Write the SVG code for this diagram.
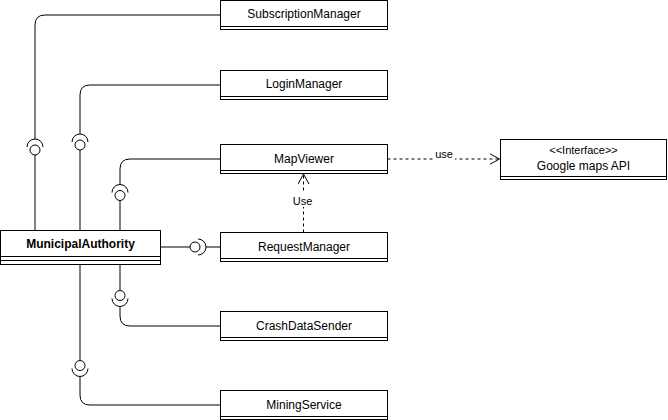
<svg xmlns="http://www.w3.org/2000/svg" width="668" height="420" viewBox="0 0 668 420">
<style>
.box{fill:#fff;stroke:#000;stroke-width:1}
.sep{stroke:#000;stroke-width:1;fill:none}
.t{font-family:"Liberation Sans",Arial,sans-serif;font-size:12px;fill:#000;text-anchor:middle}
.b{font-weight:bold}
.s{font-size:11px}
.ln{fill:none;stroke:#000;stroke-width:1}
.dash{fill:none;stroke:#000;stroke-width:1;stroke-dasharray:3 3}
.lp circle,.lp path{fill:none;stroke:#000;stroke-width:1}
</style>
<defs>
<marker id="open" viewBox="0 0 11 12" refX="10" refY="6" markerWidth="11" markerHeight="12" markerUnits="userSpaceOnUse" orient="auto">
<path d="M0,0.5 L10,6 L0,11.5" fill="none" stroke="#000" stroke-width="1"/>
</marker>
<g id="lolli" class="lp">
<circle cx="0" cy="0" r="5"/>
<path d="M-8,-3 A8,8 0 0 1 8,-3"/>
</g>
</defs>

<g id="connectors">
<path class="ln" d="M35,230 V155"/>
<path class="ln" d="M35,139 V25 Q35,15 45,15 H220"/>
<use href="#lolli" transform="translate(35,150)"/>

<path class="ln" d="M80,230 V150"/>
<path class="ln" d="M80,134 V95 Q80,85 90,85 H220"/>
<use href="#lolli" transform="translate(80,145)"/>

<path class="ln" d="M120,230 V200.5"/>
<path class="ln" d="M120,184.5 V169 Q120,159 130,159 H220"/>
<use href="#lolli" transform="translate(120,195.5)"/>

<path class="ln" d="M160,247 H190"/>
<path class="ln" d="M206,247 H220"/>
<use href="#lolli" transform="translate(195,247) rotate(90)"/>

<path class="ln" d="M120,264 V290.5"/>
<path class="ln" d="M120,306.5 V316 Q120,326 130,326 H220"/>
<use href="#lolli" transform="translate(120,295.5) rotate(180)"/>

<path class="ln" d="M80,264 V360.5"/>
<path class="ln" d="M80,376.5 V395 Q80,405 90,405 H220"/>
<use href="#lolli" transform="translate(80,365.5) rotate(180)"/>

<path class="dash" d="M387.5,159 H499.5" marker-end="url(#open)"/>
<rect x="433" y="149" width="22" height="11" fill="#fff"/>
<text class="t s" x="444" y="158">use</text>

<path class="dash" d="M303.5,232.5 V174" marker-end="url(#open)"/>
<rect x="292" y="193" width="22" height="14" fill="#fff"/>
<text class="t s" x="302.5" y="204.5">Use</text>
</g>

<g id="SubscriptionManager">
<rect class="box" x="220.5" y="0.5" width="167" height="29"/>
<line class="sep" x1="220.5" y1="26.5" x2="387.5" y2="26.5"/>
<text class="t" x="304" y="17.5">SubscriptionManager</text>
</g>
<g id="LoginManager">
<rect class="box" x="220.5" y="70.5" width="167" height="29"/>
<line class="sep" x1="220.5" y1="96.5" x2="387.5" y2="96.5"/>
<text class="t" x="304" y="88">LoginManager</text>
</g>
<g id="MapViewer">
<rect class="box" x="220.5" y="144.5" width="167" height="29"/>
<line class="sep" x1="220.5" y1="170.5" x2="387.5" y2="170.5"/>
<text class="t" x="304" y="162.5">MapViewer</text>
</g>
<g id="RequestManager">
<rect class="box" x="220.5" y="232.5" width="167" height="29"/>
<line class="sep" x1="220.5" y1="258.5" x2="387.5" y2="258.5"/>
<text class="t" x="304" y="250.5">RequestManager</text>
</g>
<g id="CrashDataSender">
<rect class="box" x="220.5" y="311.5" width="167" height="29"/>
<line class="sep" x1="220.5" y1="337.5" x2="387.5" y2="337.5"/>
<text class="t" x="304" y="329.5">CrashDataSender</text>
</g>
<g id="MiningService">
<rect class="box" x="220.5" y="390.5" width="167" height="29"/>
<line class="sep" x1="220.5" y1="416.5" x2="387.5" y2="416.5"/>
<text class="t" x="304" y="408.5">MiningService</text>
</g>
<g id="GoogleMapsAPI">
<rect class="box" x="500.5" y="139.5" width="166" height="40"/>
<line class="sep" x1="500.5" y1="176.5" x2="666.5" y2="176.5"/>
<text class="t s" x="583.5" y="154">&lt;&lt;Interface&gt;&gt;</text>
<text class="t" x="583.5" y="170">Google maps API</text>
</g>
<g id="MunicipalAuthority">
<rect class="box" x="0.5" y="230.5" width="160" height="34"/>
<line class="sep" x1="0.5" y1="256.5" x2="160.5" y2="256.5"/>
<line class="sep" x1="0.5" y1="260.5" x2="160.5" y2="260.5"/>
<text class="t b" x="80.5" y="247.5">MunicipalAuthority</text>
</g>
</svg>
